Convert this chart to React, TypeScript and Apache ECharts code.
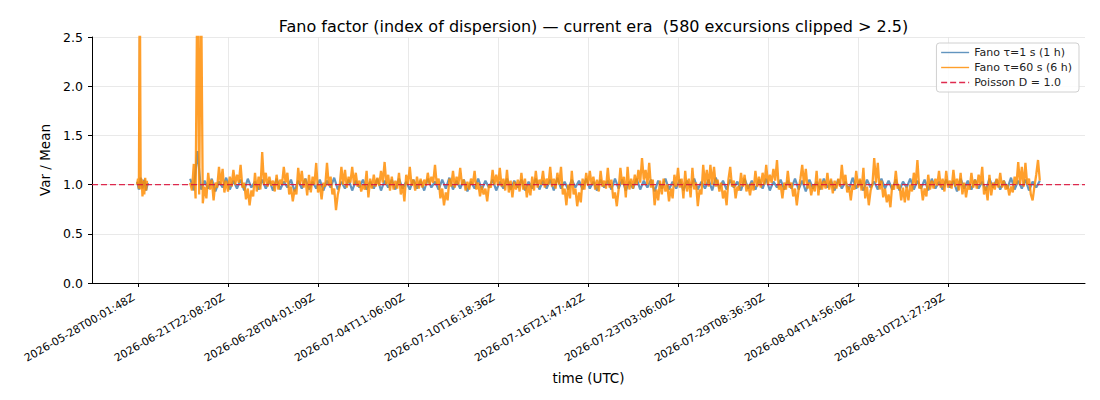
import React, { useEffect, useRef } from "react";
import * as echarts from "echarts";

const TITLE = "Fano factor (index of dispersion) — current era  (580 excursions clipped > 2.5)";
const SERIES_NAMES = ["Fano τ=1 s (1 h)", "Fano τ=60 s (6 h)", "Poisson D = 1.0"];

// x axis is a sample index; tick labels are the timestamps at those indices
const tickPositions = [0, 100, 200, 300, 400, 500, 600, 700, 800, 900];
const tickLabels = [
  "2026-05-28T00:01:48Z",
  "2026-06-21T22:08:20Z",
  "2026-06-28T04:01:09Z",
  "2026-07-04T11:06:00Z",
  "2026-07-10T16:18:36Z",
  "2026-07-16T21:47:42Z",
  "2026-07-23T03:06:00Z",
  "2026-07-29T08:36:30Z",
  "2026-08-04T14:56:06Z",
  "2026-08-10T21:27:29Z",
];
const X_MIN = -51.1;
const X_MAX = 1052.2;
const Y_TICKS = [0, 0.5, 1.0, 1.5, 2.0, 2.5];

// Fano τ=1 s (1 h) — first short segment, then the main segment
const blueA_start = -1;
const blueA_step = 2;
const blueA = [1.03, 0.95, 1.07, 0.96, 1.05, 0.94, 1.02];
const blueB_start = 58;
const blueB_step = 4;
const blueB = [
  1.06, 0.94, 1.34, 0.95, 1.04, 0.96, 1.06, 0.93, 1.03, 0.97, 1.07, 0.95,
  1.04, 0.96, 1.05, 0.94, 1.06, 0.97, 1.03, 0.95, 1.05, 0.96, 1.04, 0.94,
  1.06, 0.95, 1.03, 0.97, 1.05, 0.93, 1.04, 0.96, 1.06, 0.95, 1.03, 0.96,
  1.05, 0.94, 1.04, 0.97, 1.07, 0.95, 1.03, 0.96, 1.05, 0.94, 1.04, 0.97,
  1.05, 0.95, 1.03, 0.96, 1.06, 0.94, 1.04, 0.97, 1.05, 0.95, 1.06, 0.96,
  1.03, 0.95, 1.05, 0.96, 1.04, 0.94, 1.06, 0.97, 1.03, 0.95, 1.05, 0.96,
  1.07, 0.95, 1.04, 0.96, 1.05, 0.93, 1.03, 0.96, 1.06, 0.95, 1.04, 0.97,
  1.05, 0.94, 1.03, 0.96, 1.06, 0.95, 1.04, 0.97, 1.05, 0.94, 1.03, 0.96,
  1.06, 0.95, 1.04, 0.96, 1.05, 0.94, 1.07, 0.96, 1.03, 0.95, 1.05, 0.97,
  1.04, 0.95, 1.06, 0.96, 1.03, 0.94, 1.05, 0.97, 1.04, 0.95, 1.06, 0.96,
  1.05, 0.94, 1.03, 0.96, 1.06, 0.95, 1.04, 0.97, 1.05, 0.93, 1.04, 0.96,
  1.06, 0.95, 1.03, 0.96, 1.05, 0.94, 1.04, 0.97, 1.06, 0.95, 1.03, 0.96,
  1.05, 0.94, 1.07, 0.96, 1.04, 0.95, 1.05, 0.97, 1.03, 0.94, 1.06, 0.96,
  1.04, 0.95, 1.05, 0.96, 1.06, 0.94, 1.03, 0.97, 1.05, 0.95, 1.04, 0.96,
  1.06, 0.95, 1.04, 0.93, 1.05, 0.96, 1.03, 0.95, 1.06, 0.97, 1.04, 0.94,
  1.05, 0.96, 1.03, 0.95, 1.07, 0.96, 1.04, 0.94, 1.05, 0.97, 1.03, 0.95,
  1.06, 0.96, 1.04, 0.95, 1.05, 0.94, 1.03, 0.97, 1.06, 0.95, 1.04, 0.96,
  1.05, 0.94, 1.06, 0.96, 1.03, 0.95, 1.05, 0.97, 1.04, 0.93, 1.06, 0.96,
  1.04, 0.95, 1.05, 0.96, 1.03, 0.94, 1.06, 0.97, 1.05, 0.95, 1.04, 0.96,
  1.07, 0.95, 1.04, 0.96, 1.05, 0.94, 1.03, 0.97, 1.04,
];

// Fano τ=60 s (6 h) — values above 2.5 are clipped excursions
const orangeA_start = -1;
const orangeA_step = 1;
const orangeA = [1.0, 1.06, 0.96, 3.2, 0.95, 1.06, 0.88, 1.04, 0.9, 1.07, 0.94, 1.04];
const orangeB_start = 58;
const orangeB_step = 2;
const orangeB = [
  1.02, 0.94, 1.21, 0.86, 3.2, 0.9, 3.2, 0.81, 0.98, 0.86,
  1.12, 0.95, 1.05, 0.84, 1.02, 0.97, 1.18, 1.0, 1.16, 0.92,
  1.04, 0.93, 1.08, 0.98, 1.15, 1.0, 1.1, 1.02, 1.2, 0.97,
  1.02, 0.85, 0.96, 0.79, 0.94, 0.88, 1.12, 0.93, 1.08, 0.95,
  1.33, 1.0, 1.12, 0.98, 1.08, 0.99, 1.04, 0.93, 1.1, 0.95,
  1.05, 1.0, 1.18, 1.02, 1.12, 0.9, 0.98, 0.83, 0.95, 0.9,
  1.17, 1.0, 1.14, 0.97, 1.06, 0.89, 1.1, 0.92, 1.08, 1.0,
  1.22, 0.92, 1.0, 0.85, 1.02, 0.98, 1.22, 0.99, 1.08, 0.9,
  0.96, 0.74, 0.9, 0.98, 1.18, 1.0, 1.15, 0.97, 1.08, 1.02,
  1.18, 1.0, 1.12, 0.98, 1.04, 0.93, 1.0, 0.95, 1.14, 0.87,
  1.06, 0.96, 1.1, 0.98, 1.07, 0.99, 1.14, 1.02, 1.23, 1.0,
  1.1, 0.94, 1.08, 0.95, 1.04, 0.96, 1.12, 0.9, 1.0, 0.83,
  1.1, 1.0, 1.18, 0.99, 1.05, 0.94, 1.08, 0.96, 1.06, 0.97,
  1.05, 0.99, 1.12, 1.0, 1.08, 1.02, 1.2, 1.0, 1.06, 0.86,
  0.96, 0.79, 0.92, 0.84, 1.06, 0.98, 1.14, 0.97, 1.08, 1.0,
  1.17, 1.0, 1.05, 0.94, 1.03, 0.95, 1.06, 1.0, 1.14, 0.95,
  1.02, 0.88, 0.98, 0.9, 0.96, 0.83, 1.0, 0.97, 1.15, 1.0,
  1.1, 0.99, 1.17, 0.98, 1.06, 0.94, 1.15, 0.92, 1.04, 0.87,
  1.03, 0.95, 1.05, 0.93, 1.12, 0.95, 1.06, 0.87, 1.0, 0.89,
  1.08, 0.94, 1.14, 0.97, 1.05, 1.0, 1.14, 0.97, 1.06, 1.0,
  1.18, 0.98, 1.06, 0.96, 1.12, 1.0, 1.18, 0.9, 0.96, 0.79,
  1.0, 0.86, 1.14, 0.9, 0.96, 0.78, 0.92, 0.82, 1.06, 0.95,
  1.12, 0.99, 1.14, 1.0, 1.08, 0.95, 1.05, 0.93, 1.14, 0.98,
  1.04, 0.96, 1.17, 0.97, 1.05, 0.86, 0.92, 0.78, 0.95, 1.17,
  1.0, 1.08, 0.87, 1.18, 0.95, 1.06, 0.96, 1.1, 1.0, 1.15,
  1.02, 1.27, 1.05, 1.15, 1.0, 1.22, 0.97, 1.05, 0.79, 0.95,
  0.84, 1.04, 0.9, 1.06, 0.93, 1.0, 0.83, 0.96, 0.86, 1.1,
  0.98, 1.17, 0.97, 1.06, 0.86, 1.14, 0.93, 1.06, 0.87, 1.17,
  0.95, 1.02, 0.78, 0.95, 0.9, 1.2, 1.0, 1.15, 0.98, 1.2,
  1.0, 1.18, 0.98, 1.05, 0.93, 1.02, 0.86, 0.94, 0.79, 1.05,
  1.18, 0.98, 1.04, 0.86, 0.98, 0.94, 1.12, 0.98, 1.1, 0.93,
  1.0, 0.89, 1.02, 0.94, 1.14, 0.98, 1.08, 0.97, 1.12, 1.0,
  1.2, 1.0, 1.1, 1.02, 1.16, 1.04, 1.25, 0.95, 1.0, 0.86,
  1.02, 0.95, 1.14, 0.97, 1.02, 0.88, 0.96, 0.79, 0.95, 1.06,
  1.2, 1.0, 1.16, 0.96, 1.02, 0.89, 1.0, 0.93, 1.14, 0.89,
  1.06, 0.95, 1.04, 0.96, 1.12, 0.95, 1.06, 0.91, 1.04, 0.96,
  1.06, 0.98, 1.2, 1.0, 1.1, 0.92, 0.98, 0.84, 1.0, 0.95,
  1.14, 0.97, 1.06, 0.94, 1.17, 0.86, 0.98, 0.79, 0.94, 1.0,
  1.27, 1.02, 1.22, 0.95, 1.04, 0.87, 0.96, 0.82, 0.9, 0.77,
  1.0, 0.95, 1.14, 0.96, 1.0, 0.84, 0.97, 0.82, 0.98, 0.84,
  1.0, 0.93, 1.12, 1.0, 1.25, 0.96, 1.0, 0.84, 0.96, 0.88,
  1.1, 0.95, 1.04, 0.96, 1.06, 0.99, 1.14, 0.97, 1.06, 0.93,
  1.14, 0.97, 1.04, 0.96, 1.15, 0.98, 1.06, 0.94, 1.12, 0.9,
  1.02, 0.87, 1.0, 0.95, 1.12, 0.97, 1.05, 0.96, 1.1, 1.0,
  1.18, 0.9, 0.98, 0.84, 1.1, 0.89, 1.02, 0.95, 1.06, 0.97,
  1.12, 0.97, 1.04, 0.95, 1.0, 0.89, 0.98, 0.92, 1.08, 1.0,
  1.23, 1.0, 1.18, 0.98, 1.22, 1.0, 1.06, 0.9, 0.84, 0.98,
  1.1, 1.25, 1.04,
];
// sample index where the record has a gap (no data)
const GAP_INDEX = 34;

const POISSON_LEVEL = 1.0;

const FONT = "DejaVu Sans";

function buildSegments(
  a: number[], aStart: number, aStep: number,
  b: number[], bStart: number, bStep: number
): (number | null)[][] {
  const out: (number | null)[][] = [];
  a.forEach((v, i) => out.push([aStart + i * aStep, v]));
  out.push([GAP_INDEX, null]);
  b.forEach((v, i) => out.push([bStart + i * bStep, v]));
  return out;
}

export default function App() {
  const ref = useRef<HTMLDivElement>(null);
  useEffect(() => {
    if (!ref.current) return;
    const chart = echarts.init(ref.current, null, { renderer: "svg" });
    const blueData = buildSegments(blueA, blueA_start, blueA_step, blueB, blueB_start, blueB_step);
    const orangeData = buildSegments(orangeA, orangeA_start, orangeA_step, orangeB, orangeB_start, orangeB_step);
    const poissonData = [[X_MIN, POISSON_LEVEL], [X_MAX, POISSON_LEVEL]];

    chart.setOption({
      animation: false,
      backgroundColor: "#ffffff",
      textStyle: { fontFamily: FONT },
      title: {
        text: TITLE,
        left: 588.5,
        textAlign: "center",
        top: 13,
        textStyle: { fontFamily: FONT, fontSize: 16, fontWeight: "normal", color: "#000" },
      },
      legend: {
        data: SERIES_NAMES,
        orient: "vertical",
        right: 21,
        top: 43,
        padding: [4, 7, 4, 4],
        itemGap: 4,
        itemWidth: 28,
        itemHeight: 11,
        itemStyle: { opacity: 0 },
        lineStyle: { width: 1.4 },
        backgroundColor: "rgba(255,255,255,0.85)",
        borderColor: "#d0d0d0",
        borderWidth: 1,
        borderRadius: 3,
        textStyle: { fontFamily: FONT, fontSize: 11, color: "#222" },
      },
      grid: { left: 92, right: 15, top: 37, bottom: 117, containLabel: false },
      xAxis: {
        type: "value",
        min: X_MIN,
        max: X_MAX,
        name: "time (UTC)",
        nameLocation: "middle",
        nameGap: 88,
        nameTextStyle: { fontFamily: FONT, fontSize: 13.5, color: "#000" },
        axisLine: { show: true, onZero: false, lineStyle: { color: "#000", width: 1 } },
        axisTick: { show: true, length: 4, customValues: tickPositions, lineStyle: { color: "#000" } },
        axisLabel: {
          customValues: tickPositions,
          rotate: 30,
          margin: 11,
          padding: [0, 5, 0, 0],
          fontFamily: FONT,
          fontSize: 10.8,
          color: "#000",
          formatter: (v: number) => {
            const k = tickPositions.indexOf(Math.round(v));
            return k >= 0 ? tickLabels[k] : "";
          },
        },
        splitLine: { show: true, lineStyle: { color: "#e3e3e3", width: 0.8 } },
      },
      yAxis: {
        type: "value",
        min: 0,
        max: 2.5,
        interval: 0.5,
        name: "Var / Mean",
        nameLocation: "middle",
        nameGap: 38,
        nameTextStyle: { fontFamily: FONT, fontSize: 13.5, color: "#000" },
        axisLine: { show: true, onZero: false, lineStyle: { color: "#000", width: 1 } },
        axisTick: { show: true, length: 4, lineStyle: { color: "#000" } },
        axisLabel: {
          margin: 9,
          fontFamily: FONT,
          fontSize: 12.5,
          color: "#000",
          formatter: (v: number) => (Y_TICKS.includes(v) ? v.toFixed(1) : ""),
        },
        splitLine: { show: true, lineStyle: { color: "#e3e3e3", width: 0.8 } },
      },
      series: [
        {
          name: SERIES_NAMES[0],
          type: "line",
          data: blueData,
          showSymbol: false,
          symbol: "none",
          connectNulls: false,
          clip: true,
          color: "#4682b4",
          lineStyle: { color: "#4682b4", width: 2.2, opacity: 0.85 },
          z: 2,
        },
        {
          name: SERIES_NAMES[1],
          type: "line",
          data: orangeData,
          showSymbol: false,
          symbol: "none",
          connectNulls: false,
          clip: true,
          color: "#ff8c00",
          lineStyle: { color: "#ff8c00", width: 2.3, opacity: 0.83 },
          z: 3,
        },
        {
          name: SERIES_NAMES[2],
          type: "line",
          data: poissonData,
          showSymbol: false,
          symbol: "none",
          clip: true,
          color: "#dc143c",
          lineStyle: { color: "#dc143c", width: 1.2, type: [6, 3], opacity: 0.9 },
          z: 4,
        },
      ],
    });
    return () => chart.dispose();
  }, []);
  return (
    <div
      ref={ref}
      style={{ position: "absolute", left: 0, top: 0, width: 1100, height: 400 }}
    />
  );
}
